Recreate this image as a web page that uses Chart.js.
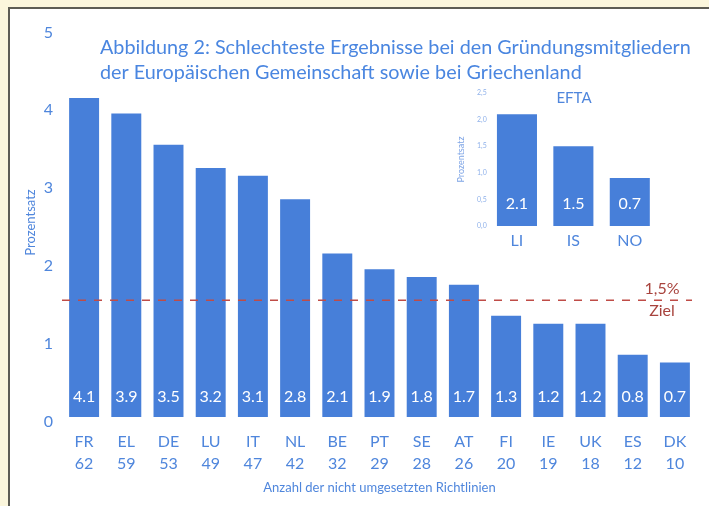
<!DOCTYPE html>
<html>
<head>
<meta charset="utf-8">
<script src="https://cdn.jsdelivr.net/npm/chart.js@4/dist/chart.umd.min.js"></script>
<style>
  body { margin: 0; background: #fbf6dc; }
  #frame { position: absolute; left: 8px; top: 7px; width: 701px; height: 499px; background: #fff;
           border-left: 2px solid #5d5c54; border-top: 2px solid #5d5c54; }
  #main { position: absolute; left: 0; top: 0; width: 709px; height: 506px; }
  #efta { position: absolute; left: 450px; top: 85px; width: 220px; height: 170px; }
</style>
</head>
<body>
<div id="frame"></div>
<canvas id="main" width="709" height="506"></canvas>
<canvas id="efta" width="220" height="170"></canvas>
<script>
// main chart data
const countries = ['FR', 'EL', 'DE', 'LU', 'IT', 'NL', 'BE', 'PT', 'SE', 'AT', 'FI', 'IE', 'UK', 'ES', 'DK'];
const openDirectives = [62, 59, 53, 49, 47, 42, 32, 29, 28, 26, 20, 19, 18, 12, 10];
const deficit = [4.1, 3.9, 3.5, 3.2, 3.1, 2.8, 2.1, 1.9, 1.8, 1.7, 1.3, 1.2, 1.2, 0.8, 0.7];
const target = 1.5;
const titleLines = ['Abbildung 2: Schlechteste Ergebnisse bei den Gründungsmitgliedern',
                    'der Europäischen Gemeinschaft sowie bei Griechenland'];

// EFTA inset data (bar heights as drawn, labels as printed)
const eftaCountries = ['LI', 'IS', 'NO'];
const eftaHeights = [2.1, 1.5, 0.9];
const eftaLabels = ['2.1', '1.5', '0.7'];

const FONT = 'Lato';
const BLUE = '#4f86dc';
const BAR = '#477fd9';
const RED = '#bf4c47';

const mainPlugin = {
    id: 'mainExtras',
    afterDatasetsDraw(chart) {
        const ctx = chart.ctx;
        const x = chart.scales.x, y = chart.scales.y;
        const meta = chart.getDatasetMeta(0);

        // values inside bars
        ctx.save();
        ctx.fillStyle = '#fff';
        ctx.font = '16px ' + FONT;
        ctx.textAlign = 'center';
        ctx.textBaseline = 'middle';
        meta.data.forEach((bar, i) => {
            ctx.fillText(deficit[i].toFixed(1), bar.x, y.getPixelForValue(0) - 20);
        });

        // target line
        const ty = y.getPixelForValue(target);
        ctx.strokeStyle = RED;
        ctx.lineWidth = 1.6;
        ctx.setLineDash([8, 8]);
        ctx.beginPath();
        ctx.moveTo(62, ty);
        ctx.lineTo(692, ty);
        ctx.stroke();
        ctx.setLineDash([]);
        ctx.fillStyle = '#a8433d';
        ctx.font = '16px ' + FONT;
        ctx.fillText('1,5%', 662, ty - 11);
        ctx.fillText('Ziel', 662, ty + 11);

        // title
        ctx.fillStyle = '#4a86e0';
        ctx.textAlign = 'left';
        ctx.textBaseline = 'alphabetic';
        ctx.font = '20px ' + FONT;
        const size = 20 * 591 / ctx.measureText(titleLines[0]).width;
        ctx.font = size.toFixed(1) + 'px ' + FONT;
        ctx.fillText(titleLines[0], 100, 54);
        ctx.fillText(titleLines[1], 100, 79);
        ctx.restore();
    }
};

new Chart(document.getElementById('main').getContext('2d'), {
    type: 'bar',
    data: {
        labels: countries.map((c, i) => [c, String(openDirectives[i])]),
        datasets: [{
            data: deficit,
            backgroundColor: BAR,
            categoryPercentage: 1,
            barPercentage: 0.71
        }]
    },
    options: {
        responsive: false,
        animation: false,
        layout: { padding: { left: 0, top: 28, right: 13, bottom: 0 } },
        plugins: { legend: { display: false }, tooltip: { enabled: false } },
        scales: {
            x: {
                grid: { display: false, drawTicks: false },
                border: { display: false },
                ticks: { color: BLUE, font: { family: FONT, size: 16, lineHeight: 1.375 }, padding: 14, maxRotation: 0 },
                title: { display: true, text: 'Anzahl der nicht umgesetzten Richtlinien', color: BLUE,
                         font: { family: FONT, size: 13 }, padding: { top: 0, bottom: 10 } },
                afterFit(scale) { scale.height = 89; }
            },
            y: {
                min: 0, max: 5,
                grid: { display: false, drawTicks: false },
                border: { display: false },
                ticks: { stepSize: 1, color: BLUE, font: { family: FONT, size: 16 }, padding: 10, labelOffset: 4.5 },
                title: { display: true, text: 'Prozentsatz', color: BLUE,
                         font: { family: FONT, size: 13 }, padding: { top: 23, bottom: 0 } },
                afterFit(scale) { scale.width = 63; }
            }
        }
    },
    plugins: [mainPlugin]
});

const eftaPlugin = {
    id: 'eftaExtras',
    afterDatasetsDraw(chart) {
        const ctx = chart.ctx;
        const y = chart.scales.y;
        ctx.save();
        ctx.fillStyle = '#fff';
        ctx.font = '16px ' + FONT;
        ctx.textAlign = 'center';
        ctx.textBaseline = 'middle';
        chart.getDatasetMeta(0).data.forEach((bar, i) => {
            ctx.fillText(eftaLabels[i], bar.x, y.getPixelForValue(0) - 22);
        });
        ctx.fillStyle = BLUE;
        ctx.font = '15px ' + FONT;
        ctx.fillText('EFTA', 124, 13);
        ctx.restore();
    }
};

new Chart(document.getElementById('efta').getContext('2d'), {
    type: 'bar',
    data: {
        labels: eftaCountries,
        datasets: [{
            data: eftaHeights,
            backgroundColor: BAR,
            categoryPercentage: 1,
            barPercentage: 0.71
        }]
    },
    options: {
        responsive: false,
        animation: false,
        layout: { padding: { left: 0, top: 8, right: 12, bottom: 0 } },
        plugins: { legend: { display: false }, tooltip: { enabled: false } },
        scales: {
            x: {
                grid: { display: false, drawTicks: false },
                border: { display: false },
                ticks: { color: BLUE, font: { family: FONT, size: 16 }, padding: 5 },
                afterFit(scale) { scale.height = 29; }
            },
            y: {
                min: 0, max: 2.5,
                grid: { display: false, drawTicks: false },
                border: { display: false },
                ticks: { stepSize: 0.5, color: '#8fb1ea', font: { family: FONT, size: 7 }, padding: 2,
                         callback: v => v.toFixed(1).replace('.', ',') },
                title: { display: true, text: 'Prozentsatz', color: '#7fa5e6',
                         font: { family: FONT, size: 9 }, padding: { top: 6, bottom: 0 } },
                afterFit(scale) { scale.width = 38.75; }
            }
        }
    },
    plugins: [eftaPlugin]
});
</script>
</body>
</html>
